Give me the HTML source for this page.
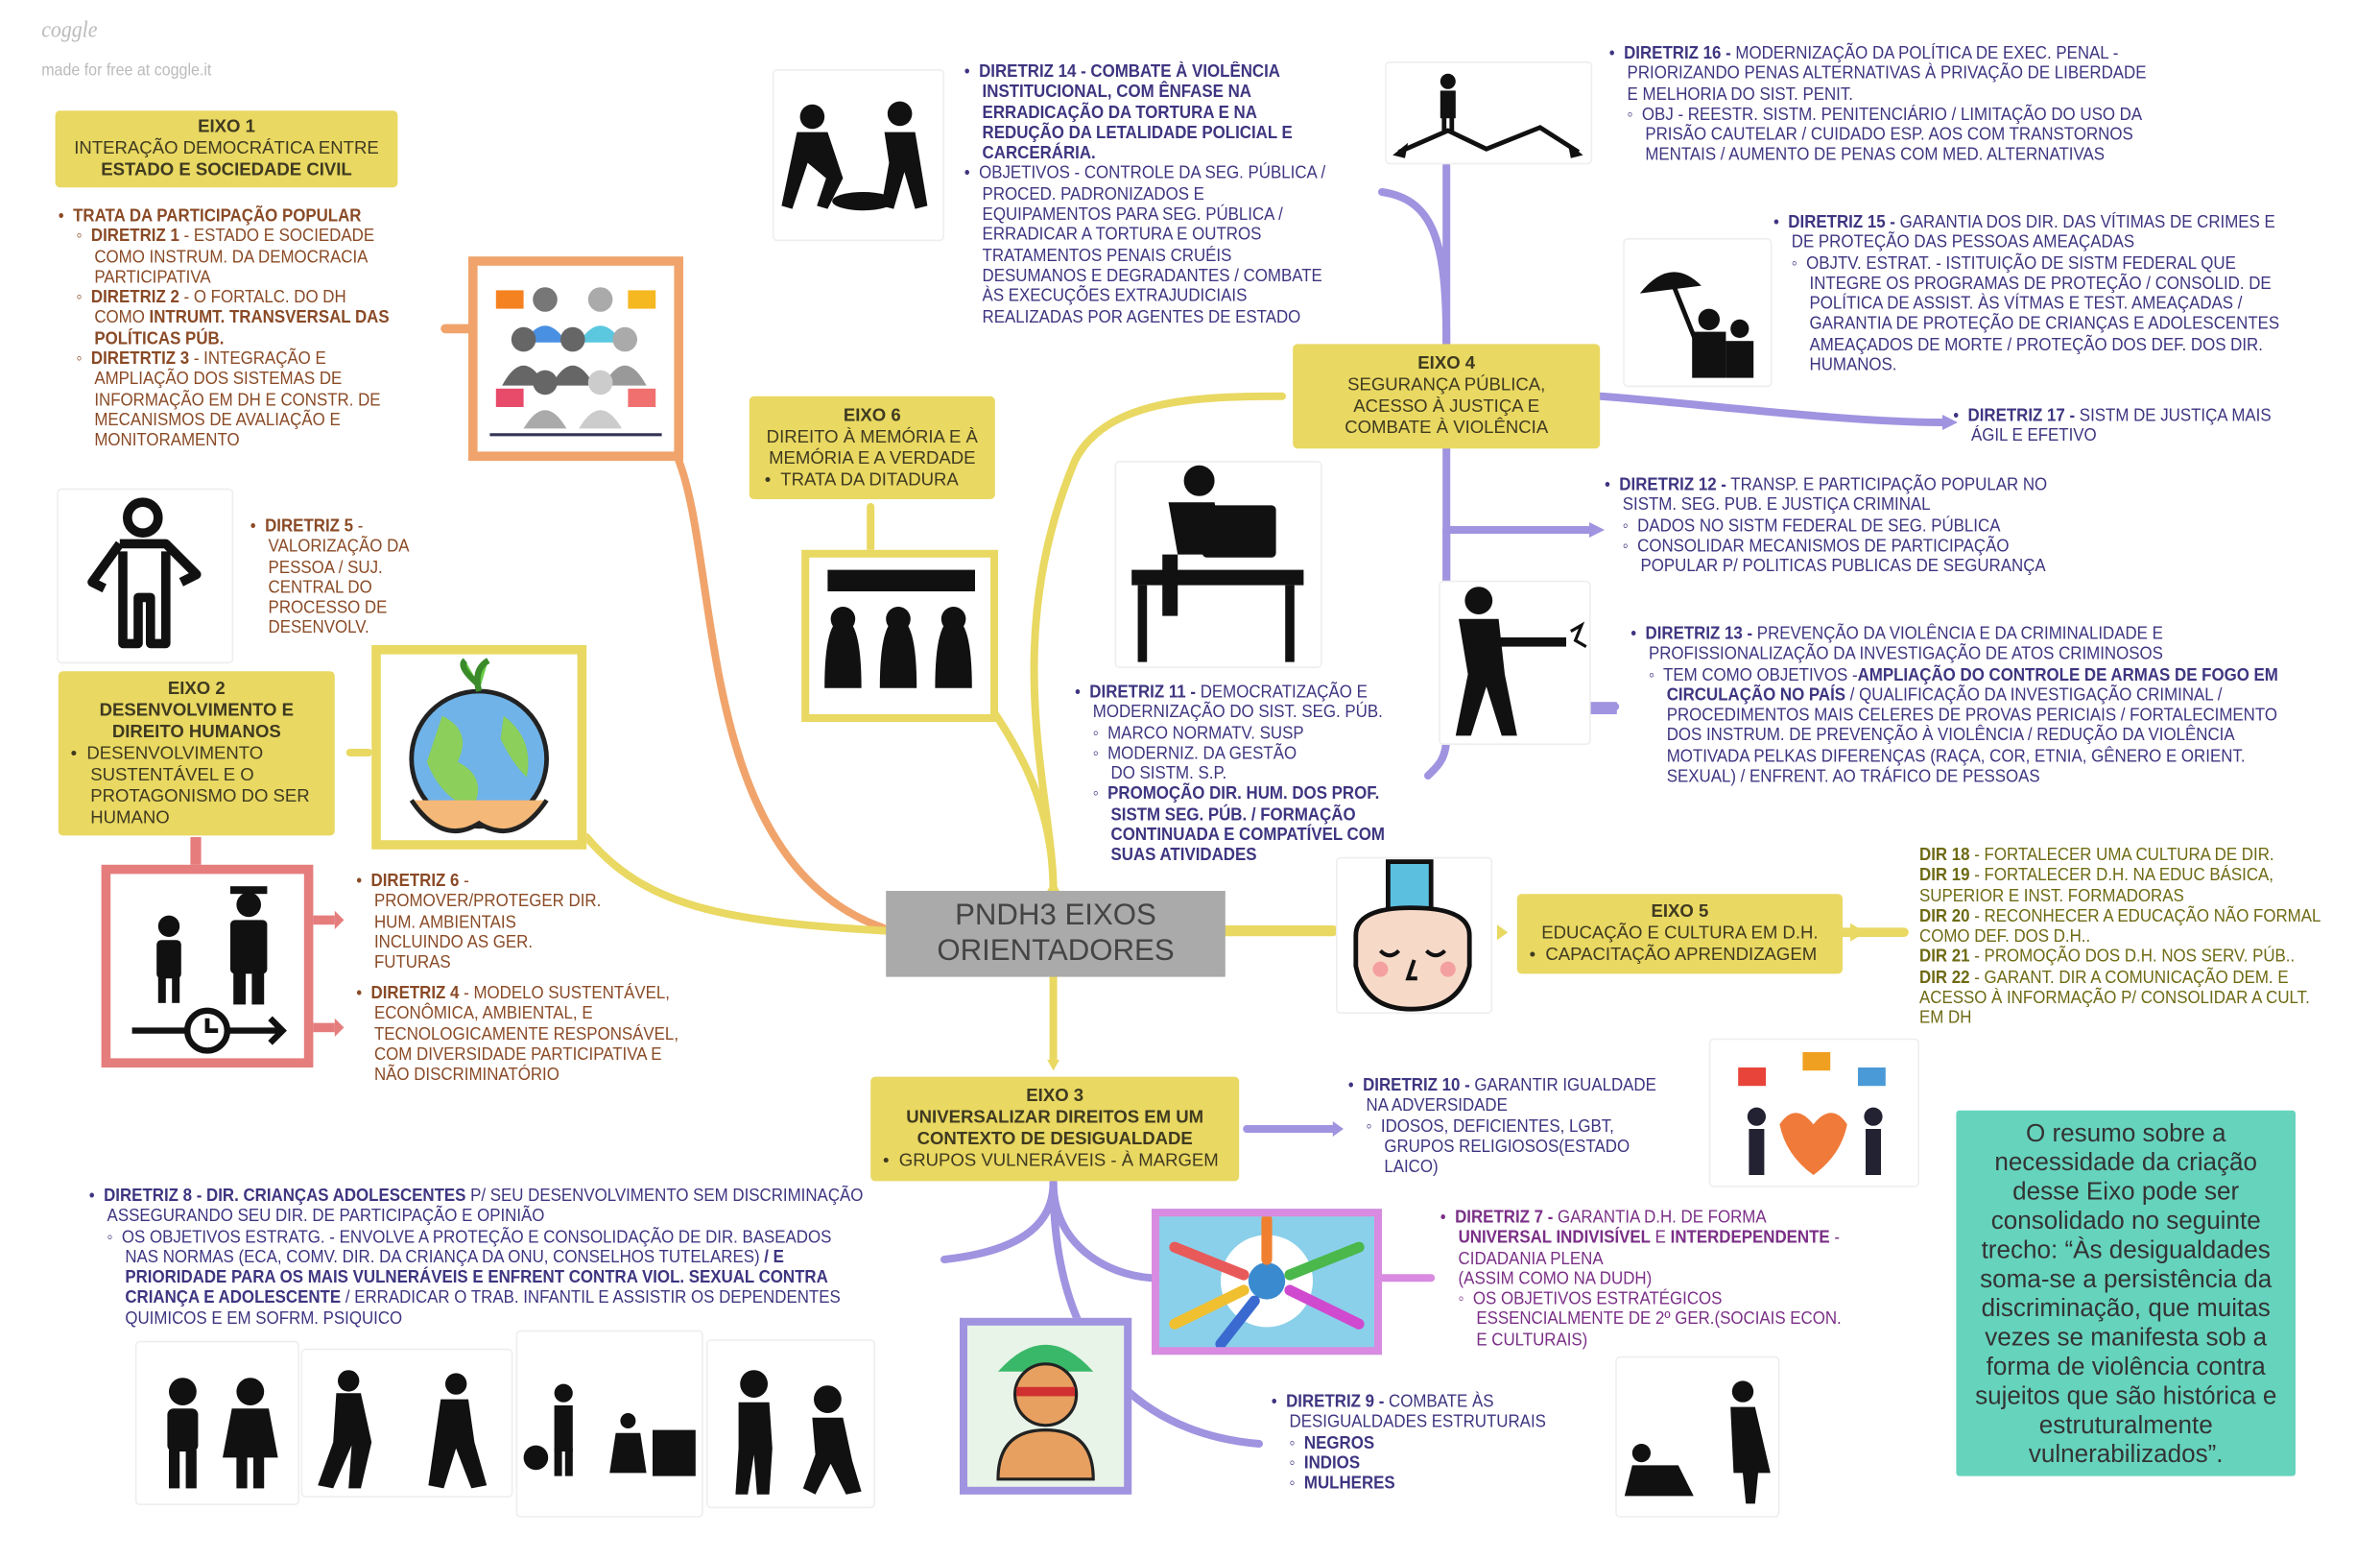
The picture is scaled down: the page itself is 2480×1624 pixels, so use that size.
<!DOCTYPE html>
<html><head><meta charset="utf-8">
<style>
html,body{margin:0;padding:0;background:#fff;width:2480px;height:1624px;overflow:hidden}
#w{position:absolute;left:0;top:0;width:1550px;height:1015px;transform:scale(1.6);transform-origin:0 0;font-family:"Liberation Sans Narrow","Liberation Sans",sans-serif}
.t{position:absolute;font-size:11.6px;line-height:13.3px;white-space:nowrap;transform:scaleX(0.91);transform-origin:0 0}
.br{color:#8a4a26}.nv{color:#3d3580}.pu{color:#7a2f86}.ol{color:#6e6a14}
.eixo{position:absolute;background:#e9d862;border-radius:3px;color:#3f3a20;font-size:11.6px;line-height:14px;text-align:center;white-space:nowrap;display:flex;flex-direction:column;justify-content:center}
.img{position:absolute;background:#fff;border:1px solid #eee;border-radius:3px}
b{font-weight:bold}
.box{position:absolute;box-sizing:border-box;background:#fff}
</style></head><body><div id="w">

<svg width="1550" height="1015" style="position:absolute;left:0;top:0" xmlns="http://www.w3.org/2000/svg">
<g fill="none" stroke-linecap="round">
<path d="M440 295 C470 360,450 560,575 604" stroke="#f0a46c" stroke-width="5"/>
<path d="M305 214 L290 214" stroke="#f0a46c" stroke-width="6"/>
<path d="M382 545 C420 590,470 600,577 606" stroke="#e9d862" stroke-width="5"/>
<path d="M686 580 C686 500,640 460,620 420 M686 580 C686 520,650 420,700 300 C720 260,780 258,835 258" stroke="#e9d862" stroke-width="5"/>
<path d="M567 358 L567 330" stroke="#e9d862" stroke-width="5"/>
<path d="M686 636 L686 690" stroke="#e9d862" stroke-width="5"/>
<path d="M798 606 L868 606" stroke="#e9d862" stroke-width="7"/>
<path d="M1200 607 L1240 607" stroke="#e9d862" stroke-width="6"/>
<path d="M228 490 L240 490" stroke="#e9d862" stroke-width="5"/>
<g stroke="#a093e0" stroke-width="5">
<path d="M942 224 C942 160,935 130,900 125"/>
<path d="M942 224 L942 108"/>
<path d="M1042 258 C1100 262,1200 275,1265 275"/>
<path d="M942 292 L942 345 L1035 345"/>
<path d="M942 345 L942 480 C942 495,935 500,930 505"/>
<path d="M942 345 L942 460 L1052 460"/>
<path d="M812 735 L868 735"/>
<path d="M686 770 C686 800,660 815,615 820"/>
<path d="M686 770 C686 810,720 830,750 832"/>
<path d="M686 770 C686 900,760 935,820 940"/>
</g>
<path d="M900 832 L932 832" stroke="#d88be0" stroke-width="5"/>
</g>
<g fill="#e9d862"><polygon points="975,602 982,607 975,612"/><polygon points="1205,601 1215,607 1205,613"/><polygon points="682,690 690,690 686,697"/><polygon points="682,580 690,580 686,573"/></g>
<g fill="#a093e0"><polygon points="1035,340 1045,345 1035,350"/><polygon points="1265,270 1275,275 1265,280"/><polygon points="868,730 875,735 868,740"/></g>
<rect x="1035" y="457" width="18" height="8" fill="#a093e0"/>
</svg>

<div class="t" style="left:27px;top:14px;font-family:'Liberation Serif',serif;font-style:italic;font-size:15px;color:#bbb">coggle</div>
<div class="t" style="left:27px;top:40px;font-family:'Liberation Sans',sans-serif;font-size:11px;color:#bbb">made for free at coggle.it</div>

<div class="eixo" style="left:36px;top:72px;width:223px;height:50px"><b>EIXO 1</b>INTERAÇÃO DEMOCRÁTICA ENTRE<b>ESTADO E SOCIEDADE CIVIL</b></div>
<div class="t br" style="left:38px;top:134px">•&nbsp; <b>TRATA DA PARTICIPAÇÃO POPULAR</b><br>&nbsp;&nbsp;&nbsp;&nbsp;◦&nbsp; <b>DIRETRIZ 1</b> - ESTADO E SOCIEDADE<br>&nbsp;&nbsp;&nbsp;&nbsp;&nbsp;&nbsp;&nbsp;&nbsp;COMO INSTRUM. DA DEMOCRACIA<br>&nbsp;&nbsp;&nbsp;&nbsp;&nbsp;&nbsp;&nbsp;&nbsp;PARTICIPATIVA<br>&nbsp;&nbsp;&nbsp;&nbsp;◦&nbsp; <b>DIRETRIZ 2</b> - O FORTALC. DO DH<br>&nbsp;&nbsp;&nbsp;&nbsp;&nbsp;&nbsp;&nbsp;&nbsp;COMO <b>INTRUMT. TRANSVERSAL DAS</b><br>&nbsp;&nbsp;&nbsp;&nbsp;&nbsp;&nbsp;&nbsp;&nbsp;<b>POLÍTICAS PÚB.</b><br>&nbsp;&nbsp;&nbsp;&nbsp;◦&nbsp; <b>DIRETRTIZ 3</b> - INTEGRAÇÃO E<br>&nbsp;&nbsp;&nbsp;&nbsp;&nbsp;&nbsp;&nbsp;&nbsp;AMPLIAÇÃO DOS SISTEMAS DE<br>&nbsp;&nbsp;&nbsp;&nbsp;&nbsp;&nbsp;&nbsp;&nbsp;INFORMAÇÃO EM DH E CONSTR. DE<br>&nbsp;&nbsp;&nbsp;&nbsp;&nbsp;&nbsp;&nbsp;&nbsp;MECANISMOS DE AVALIAÇÃO E<br>&nbsp;&nbsp;&nbsp;&nbsp;&nbsp;&nbsp;&nbsp;&nbsp;MONITORAMENTO</div>

<div class="box" style="left:305px;top:167px;width:140px;height:133px;border:6px solid #f0a46c">
<svg width="128" height="121" viewBox="0 0 128 121"><g fill="#777"><circle cx="44" cy="22" r="8"/><circle cx="80" cy="22" r="8" fill="#aaa"/></g>
<path d="M30 50 Q44 28 58 50Z" fill="#4a90e2"/><path d="M66 50 Q80 28 94 50Z" fill="#5bc8e0"/>
<g fill="#666"><circle cx="30" cy="48" r="8"/><circle cx="62" cy="48" r="8"/><circle cx="96" cy="48" r="8" fill="#aaa"/><path d="M16 78 Q30 52 44 78Z"/><path d="M48 78 Q62 52 76 78Z"/><path d="M82 78 Q96 52 110 78Z" fill="#999"/><circle cx="44" cy="76" r="8"/><circle cx="80" cy="76" r="8" fill="#ccc"/><path d="M30 106 Q44 82 58 106Z" fill="#aaa"/><path d="M66 106 Q80 82 94 106Z" fill="#ccc"/></g>
<rect x="12" y="16" width="18" height="12" fill="#f58220"/><rect x="98" y="16" width="18" height="12" fill="#f5b820"/><rect x="12" y="80" width="18" height="12" fill="#e84a6a"/><rect x="98" y="80" width="18" height="12" fill="#f07070"/>
<path d="M8 110 H120" stroke="#335" stroke-width="2"/></svg></div>

<div class="img" style="left:37px;top:318px;width:113px;height:112px"><svg width="113" height="112"><g fill="none" stroke="#111" stroke-width="6" stroke-linejoin="round"><circle cx="55" cy="18" r="10"/><path d="M40 35 L70 35 L90 55 L80 60 M40 35 L22 60 L30 64 M42 40 L42 100 L52 100 L52 70 L60 70 L60 100 L70 100 L70 40"/></g></svg></div>
<div class="t br" style="left:163px;top:336px">•&nbsp; <b>DIRETRIZ 5</b> -<br>&nbsp;&nbsp;&nbsp;&nbsp;VALORIZAÇÃO DA<br>&nbsp;&nbsp;&nbsp;&nbsp;PESSOA / SUJ.<br>&nbsp;&nbsp;&nbsp;&nbsp;CENTRAL DO<br>&nbsp;&nbsp;&nbsp;&nbsp;PROCESSO DE<br>&nbsp;&nbsp;&nbsp;&nbsp;DESENVOLV.</div>

<div class="eixo" style="left:38px;top:437px;width:180px;height:107px;align-items:flex-start"><div style="width:100%;text-align:center"><b>EIXO 2<br>DESENVOLVIMENTO E<br>DIREITO HUMANOS</b></div><div style="text-align:left;padding-left:8px">•&nbsp; DESENVOLVIMENTO<br>&nbsp;&nbsp;&nbsp;&nbsp;SUSTENTÁVEL E O<br>&nbsp;&nbsp;&nbsp;&nbsp;PROTAGONISMO DO SER<br>&nbsp;&nbsp;&nbsp;&nbsp;HUMANO</div></div>

<div class="box" style="left:242px;top:420px;width:140px;height:133px;border:6px solid #e9d862"><svg width="128" height="121"><circle cx="64" cy="68" r="44" fill="#6fb3e8" stroke="#222" stroke-width="3"/><path d="M40 40 Q60 50 50 70 Q70 80 60 100 Q40 95 30 70Z M80 40 Q100 55 95 80 Q85 70 78 55Z" fill="#8ccf5a"/><path d="M64 24 Q60 10 70 4 M64 20 Q50 8 55 4" stroke="#3a8a2a" stroke-width="4" fill="#6c4"/><path d="M20 95 Q40 125 64 110 Q88 125 108 95" stroke="#222" stroke-width="3" fill="#f4b878"/></svg></div>

<div class="box" style="left:66px;top:563px;width:138px;height:132px;border:6px solid #e57d7d"><svg width="126" height="120"><g fill="#111"><circle cx="38" cy="34" r="7"/><rect x="30" y="43" width="16" height="25" rx="3"/><rect x="31" y="66" width="5" height="18"/><rect x="40" y="66" width="5" height="18"/><circle cx="90" cy="20" r="8"/><rect x="78" y="8" width="24" height="5"/><rect x="78" y="30" width="24" height="35" rx="3"/><rect x="80" y="63" width="8" height="22"/><rect x="92" y="63" width="8" height="22"/></g><path d="M14 102 H112 M104 94 L112 102 L104 110" stroke="#111" stroke-width="4" fill="none"/><circle cx="63" cy="102" r="13" fill="#fff" stroke="#111" stroke-width="4"/><path d="M63 94 V102 H70" stroke="#111" stroke-width="3" fill="none"/></svg></div>
<svg style="position:absolute;left:204px;top:590px" width="20" height="90"><rect x="0" y="6" width="14" height="6" fill="#e57d7d"/><polygon points="14,3 20,9 14,15" fill="#e57d7d"/><rect x="0" y="76" width="14" height="6" fill="#e57d7d"/><polygon points="14,73 20,79 14,85" fill="#e57d7d"/></svg>
<div style="position:absolute;left:124px;top:545px;width:7px;height:18px;background:#e57d7d"></div>
<div class="t br" style="left:232px;top:567px">•&nbsp; <b>DIRETRIZ 6</b> -<br>&nbsp;&nbsp;&nbsp;&nbsp;PROMOVER/PROTEGER DIR.<br>&nbsp;&nbsp;&nbsp;&nbsp;HUM. AMBIENTAIS<br>&nbsp;&nbsp;&nbsp;&nbsp;INCLUINDO AS GER.<br>&nbsp;&nbsp;&nbsp;&nbsp;FUTURAS</div>
<div class="t br" style="left:232px;top:640px">•&nbsp; <b>DIRETRIZ 4</b> - MODELO SUSTENTÁVEL,<br>&nbsp;&nbsp;&nbsp;&nbsp;ECONÔMICA, AMBIENTAL, E<br>&nbsp;&nbsp;&nbsp;&nbsp;TECNOLOGICAMENTE RESPONSÁVEL,<br>&nbsp;&nbsp;&nbsp;&nbsp;COM DIVERSIDADE PARTICIPATIVA E<br>&nbsp;&nbsp;&nbsp;&nbsp;NÃO DISCRIMINATÓRIO</div>

<div class="eixo" style="left:488px;top:258px;width:160px;height:67px"><b>EIXO 6</b>DIREITO À MEMÓRIA E À<br>MEMÓRIA E A VERDADE<div style="text-align:left;padding-left:10px">•&nbsp; TRATA DA DITADURA</div></div>
<div class="box" style="left:522px;top:358px;width:128px;height:112px;border:5px solid #e9d862"><svg width="118" height="102"><g fill="#111"><rect x="12" y="8" width="96" height="14"/><path d="M10 85 Q10 40 22 40 Q34 40 34 85Z M46 85 Q46 40 58 40 Q70 40 70 85Z M82 85 Q82 40 94 40 Q106 40 106 85Z"/><circle cx="22" cy="40" r="8"/><circle cx="58" cy="40" r="8"/><circle cx="94" cy="40" r="8"/></g></svg></div>

<div class="img" style="left:503px;top:45px;width:110px;height:110px"><svg width="110" height="110"><g fill="#111"><circle cx="25" cy="30" r="8"/><path d="M15 40 L35 40 L45 70 L35 90 L28 88 L34 70 L22 60 L12 90 L5 88Z"/><circle cx="82" cy="28" r="8"/><path d="M72 40 L92 40 L100 88 L92 90 L85 66 L78 90 L70 88 L75 60Z"/><ellipse cx="58" cy="85" rx="20" ry="6"/></g></svg></div>
<div class="t nv" style="left:628px;top:40px">•&nbsp; <b>DIRETRIZ 14 - COMBATE À VIOLÊNCIA<br>&nbsp;&nbsp;&nbsp;&nbsp;INSTITUCIONAL, COM ÊNFASE NA<br>&nbsp;&nbsp;&nbsp;&nbsp;ERRADICAÇÃO DA TORTURA E NA<br>&nbsp;&nbsp;&nbsp;&nbsp;REDUÇÃO DA LETALIDADE POLICIAL E<br>&nbsp;&nbsp;&nbsp;&nbsp;CARCERÁRIA.</b><br>•&nbsp; OBJETIVOS - CONTROLE DA SEG. PÚBLICA /<br>&nbsp;&nbsp;&nbsp;&nbsp;PROCED. PADRONIZADOS E<br>&nbsp;&nbsp;&nbsp;&nbsp;EQUIPAMENTOS PARA SEG. PÚBLICA /<br>&nbsp;&nbsp;&nbsp;&nbsp;ERRADICAR A TORTURA E OUTROS<br>&nbsp;&nbsp;&nbsp;&nbsp;TRATAMENTOS PENAIS CRUÉIS<br>&nbsp;&nbsp;&nbsp;&nbsp;DESUMANOS E DEGRADANTES / COMBATE<br>&nbsp;&nbsp;&nbsp;&nbsp;ÀS EXECUÇÕES EXTRAJUDICIAIS<br>&nbsp;&nbsp;&nbsp;&nbsp;REALIZADAS POR AGENTES DE ESTADO</div>

<div style="position:absolute;left:577px;top:580px;width:221px;height:56px;background:#aaa;color:#444;font-family:'Liberation Sans Narrow','Liberation Sans',sans-serif;font-size:19.5px;line-height:23px;text-align:center;display:flex;align-items:center;justify-content:center">PNDH3 EIXOS<br>ORIENTADORES</div>

<div class="eixo" style="left:842px;top:224px;width:200px;height:68px"><b>EIXO 4</b>SEGURANÇA PÚBLICA,<br>ACESSO À JUSTIÇA E<br>COMBATE À VIOLÊNCIA</div>
<div class="img" style="left:902px;top:40px;width:133px;height:65px"><svg width="133" height="65"><g fill="#111"><circle cx="40" cy="12" r="5"/><rect x="35" y="18" width="10" height="18"/><rect x="36" y="34" width="3" height="12"/><rect x="41" y="34" width="3" height="12"/></g><path d="M8 58 L40 44 L65 56 L100 42 L125 58" stroke="#111" stroke-width="3" fill="none"/><polygon points="4,60 14,52 12,62" fill="#111"/><polygon points="128,60 118,52 120,62" fill="#111"/></svg></div>
<div class="t nv" style="left:1048px;top:28px">•&nbsp; <b>DIRETRIZ 16 -</b> MODERNIZAÇÃO DA POLÍTICA DE EXEC. PENAL -<br>&nbsp;&nbsp;&nbsp;&nbsp;PRIORIZANDO PENAS ALTERNATIVAS À PRIVAÇÃO DE LIBERDADE<br>&nbsp;&nbsp;&nbsp;&nbsp;E MELHORIA DO SIST. PENIT.<br>&nbsp;&nbsp;&nbsp;&nbsp;◦&nbsp; OBJ - REESTR. SISTM. PENITENCIÁRIO / LIMITAÇÃO DO USO DA<br>&nbsp;&nbsp;&nbsp;&nbsp;&nbsp;&nbsp;&nbsp;&nbsp;PRISÃO CAUTELAR / CUIDADO ESP. AOS COM TRANSTORNOS<br>&nbsp;&nbsp;&nbsp;&nbsp;&nbsp;&nbsp;&nbsp;&nbsp;MENTAIS / AUMENTO DE PENAS COM MED. ALTERNATIVAS</div>
<div class="img" style="left:1057px;top:155px;width:95px;height:95px"><svg width="95" height="95"><path d="M10 35 Q30 10 50 30Z" fill="#111"/><path d="M30 25 L48 70" stroke="#111" stroke-width="3"/><g fill="#111"><circle cx="55" cy="52" r="7"/><rect x="44" y="60" width="22" height="30"/><circle cx="75" cy="58" r="6"/><rect x="66" y="66" width="18" height="24"/></g></svg></div>
<div class="t nv" style="left:1155px;top:138px">•&nbsp; <b>DIRETRIZ 15 -</b> GARANTIA DOS DIR. DAS VÍTIMAS DE CRIMES E<br>&nbsp;&nbsp;&nbsp;&nbsp;DE PROTEÇÃO DAS PESSOAS AMEAÇADAS<br>&nbsp;&nbsp;&nbsp;&nbsp;◦&nbsp; OBJTV. ESTRAT. - ISTITUIÇÃO DE SISTM FEDERAL QUE<br>&nbsp;&nbsp;&nbsp;&nbsp;&nbsp;&nbsp;&nbsp;&nbsp;INTEGRE OS PROGRAMAS DE PROTEÇÃO / CONSOLID. DE<br>&nbsp;&nbsp;&nbsp;&nbsp;&nbsp;&nbsp;&nbsp;&nbsp;POLÍTICA DE ASSIST. ÀS VÍTMAS E TEST. AMEAÇADAS /<br>&nbsp;&nbsp;&nbsp;&nbsp;&nbsp;&nbsp;&nbsp;&nbsp;GARANTIA DE PROTEÇÃO DE CRIANÇAS E ADOLESCENTES<br>&nbsp;&nbsp;&nbsp;&nbsp;&nbsp;&nbsp;&nbsp;&nbsp;AMEAÇADOS DE MORTE / PROTEÇÃO DOS DEF. DOS DIR.<br>&nbsp;&nbsp;&nbsp;&nbsp;&nbsp;&nbsp;&nbsp;&nbsp;HUMANOS.</div>
<div class="t nv" style="left:1272px;top:264px">•&nbsp; <b>DIRETRIZ 17 -</b> SISTM DE JUSTIÇA MAIS<br>&nbsp;&nbsp;&nbsp;&nbsp;ÁGIL E EFETIVO</div>

<div class="img" style="left:726px;top:300px;width:133px;height:133px"><svg width="133" height="133"><g fill="#111"><circle cx="54" cy="12" r="10"/><path d="M34 26 L64 26 L70 60 L40 60Z"/><rect x="56" y="28" width="48" height="34" rx="3"/><rect x="10" y="70" width="112" height="10"/><rect x="14" y="80" width="6" height="50"/><rect x="110" y="80" width="6" height="50"/><rect x="30" y="60" width="10" height="40"/></g></svg></div>
<div class="t nv" style="left:1045px;top:309px">•&nbsp; <b>DIRETRIZ 12 -</b> TRANSP. E PARTICIPAÇÃO POPULAR NO<br>&nbsp;&nbsp;&nbsp;&nbsp;SISTM. SEG. PUB. E JUSTIÇA CRIMINAL<br>&nbsp;&nbsp;&nbsp;&nbsp;◦&nbsp; DADOS NO SISTM FEDERAL DE SEG. PÚBLICA<br>&nbsp;&nbsp;&nbsp;&nbsp;◦&nbsp; CONSOLIDAR MECANISMOS DE PARTICIPAÇÃO<br>&nbsp;&nbsp;&nbsp;&nbsp;&nbsp;&nbsp;&nbsp;&nbsp;POPULAR P/ POLITICAS PUBLICAS DE SEGURANÇA</div>
<div class="img" style="left:937px;top:378px;width:97px;height:105px"><svg width="97" height="105"><g fill="#111"><circle cx="25" cy="12" r="9"/><path d="M12 24 L38 24 L42 60 L50 100 L40 100 L30 68 L20 100 L10 100 L18 60Z"/><rect x="20" y="36" width="62" height="6"/></g><path d="M85 32 L92 28 L88 38 L95 42" stroke="#111" stroke-width="2" fill="none"/></svg></div>
<div class="t nv" style="left:1062px;top:406px">•&nbsp; <b>DIRETRIZ 13 -</b> PREVENÇÃO DA VIOLÊNCIA E DA CRIMINALIDADE E<br>&nbsp;&nbsp;&nbsp;&nbsp;PROFISSIONALIZAÇÃO DA INVESTIGAÇÃO DE ATOS CRIMINOSOS<br>&nbsp;&nbsp;&nbsp;&nbsp;◦&nbsp; TEM COMO OBJETIVOS -<b>AMPLIAÇÃO DO CONTROLE DE ARMAS DE FOGO EM</b><br>&nbsp;&nbsp;&nbsp;&nbsp;&nbsp;&nbsp;&nbsp;&nbsp;<b>CIRCULAÇÃO NO PAÍS</b> / QUALIFICAÇÃO DA INVESTIGAÇÃO CRIMINAL /<br>&nbsp;&nbsp;&nbsp;&nbsp;&nbsp;&nbsp;&nbsp;&nbsp;PROCEDIMENTOS MAIS CELERES DE PROVAS PERICIAIS / FORTALECIMENTO<br>&nbsp;&nbsp;&nbsp;&nbsp;&nbsp;&nbsp;&nbsp;&nbsp;DOS INSTRUM. DE PREVENÇÃO À VIOLÊNCIA / REDUÇÃO DA VIOLÊNCIA<br>&nbsp;&nbsp;&nbsp;&nbsp;&nbsp;&nbsp;&nbsp;&nbsp;MOTIVADA PELKAS DIFERENÇAS (RAÇA, COR, ETNIA, GÊNERO E ORIENT.<br>&nbsp;&nbsp;&nbsp;&nbsp;&nbsp;&nbsp;&nbsp;&nbsp;SEXUAL) / ENFRENT. AO TRÁFICO DE PESSOAS</div>
<div class="t nv" style="left:700px;top:444px">•&nbsp; <b>DIRETRIZ 11 -</b> DEMOCRATIZAÇÃO E<br>&nbsp;&nbsp;&nbsp;&nbsp;MODERNIZAÇÃO DO SIST. SEG. PÚB.<br>&nbsp;&nbsp;&nbsp;&nbsp;◦&nbsp; MARCO NORMATV. SUSP<br>&nbsp;&nbsp;&nbsp;&nbsp;◦&nbsp; MODERNIZ. DA GESTÃO<br>&nbsp;&nbsp;&nbsp;&nbsp;&nbsp;&nbsp;&nbsp;&nbsp;DO SISTM. S.P.<br>&nbsp;&nbsp;&nbsp;&nbsp;◦&nbsp; <b>PROMOÇÃO DIR. HUM. DOS PROF.</b><br>&nbsp;&nbsp;&nbsp;&nbsp;&nbsp;&nbsp;&nbsp;&nbsp;<b>SISTM SEG. PÚB. / FORMAÇÃO</b><br>&nbsp;&nbsp;&nbsp;&nbsp;&nbsp;&nbsp;&nbsp;&nbsp;<b>CONTINUADA E COMPATÍVEL COM</b><br>&nbsp;&nbsp;&nbsp;&nbsp;&nbsp;&nbsp;&nbsp;&nbsp;<b>SUAS ATIVIDADES</b></div>

<div class="img" style="left:870px;top:558px;width:100px;height:100px"><svg width="100" height="100"><rect x="33" y="2" width="28" height="38" fill="#5bbfe0" stroke="#111" stroke-width="3"/><path d="M12 50 Q12 32 48 32 Q86 32 86 50 L86 70 Q80 98 48 98 Q18 98 12 70Z" fill="#f7d9c8" stroke="#111" stroke-width="3"/><path d="M28 60 Q34 66 40 60 M58 60 Q64 66 70 60 M50 66 L46 78 L52 78" stroke="#111" stroke-width="2.5" fill="none"/><circle cx="28" cy="72" r="5" fill="#f4a0a0"/><circle cx="72" cy="72" r="5" fill="#f4a0a0"/></svg></div>
<div class="eixo" style="left:988px;top:582px;width:212px;height:52px"><b>EIXO 5</b>EDUCAÇÃO E CULTURA EM D.H.<div style="text-align:left;padding-left:8px">•&nbsp; CAPACITAÇÃO APRENDIZAGEM</div></div>
<div class="t ol" style="left:1250px;top:550px"><b>DIR 18</b> - FORTALECER UMA CULTURA DE DIR.<br><b>DIR 19</b> - FORTALECER D.H. NA EDUC BÁSICA,<br>SUPERIOR E INST. FORMADORAS<br><b>DIR 20</b> - RECONHECER A EDUCAÇÃO NÃO FORMAL<br>COMO DEF. DOS D.H..<br><b>DIR 21</b> - PROMOÇÃO DOS D.H. NOS SERV. PÚB..<br><b>DIR 22</b> - GARANT. DIR A COMUNICAÇÃO DEM. E<br>ACESSO À INFORMAÇÃO P/ CONSOLIDAR A CULT.<br>EM DH</div>

<div class="eixo" style="left:567px;top:701px;width:240px;height:68px"><b>EIXO 3<br>UNIVERSALIZAR DIREITOS EM UM<br>CONTEXTO DE DESIGUALDADE</b><div style="text-align:left;padding-left:8px">•&nbsp; GRUPOS VULNERÁVEIS - À MARGEM</div></div>
<div class="t nv" style="left:878px;top:700px">•&nbsp; <b>DIRETRIZ 10 -</b> GARANTIR IGUALDADE<br>&nbsp;&nbsp;&nbsp;&nbsp;NA ADVERSIDADE<br>&nbsp;&nbsp;&nbsp;&nbsp;◦&nbsp; IDOSOS, DEFICIENTES, LGBT,<br>&nbsp;&nbsp;&nbsp;&nbsp;&nbsp;&nbsp;&nbsp;&nbsp;GRUPOS RELIGIOSOS(ESTADO<br>&nbsp;&nbsp;&nbsp;&nbsp;&nbsp;&nbsp;&nbsp;&nbsp;LAICO)</div>
<div class="img" style="left:1113px;top:676px;width:135px;height:95px"><svg width="135" height="95"><rect x="18" y="18" width="18" height="12" fill="#e8443a"/><rect x="60" y="8" width="18" height="12" fill="#f0a020"/><rect x="96" y="18" width="18" height="12" fill="#4a9ad8"/><path d="M45 55 Q55 40 67 55 Q79 40 89 55 Q85 75 67 88 Q49 75 45 55Z" fill="#f07a3a"/><g fill="#223"><circle cx="30" cy="50" r="6"/><rect x="25" y="58" width="10" height="30"/><circle cx="106" cy="50" r="6"/><rect x="101" y="58" width="10" height="30"/></g></svg></div>

<div class="box" style="left:750px;top:787px;width:150px;height:95px;border:5px solid #d88be0;background:#8ad0ea"><svg width="140" height="85"><circle cx="70" cy="42" r="30" fill="#fff"/><circle cx="70" cy="42" r="12" fill="#3a8ad0"/><g stroke-width="7" stroke-linecap="round"><path d="M10 20 L55 38" stroke="#e85a5a"/><path d="M130 20 L85 38" stroke="#4ab84a"/><path d="M10 70 L55 48" stroke="#f0c030"/><path d="M130 70 L85 48" stroke="#d04ad0"/><path d="M70 2 L70 28" stroke="#f08030"/><path d="M40 83 L62 55" stroke="#3a6ad0"/></g></svg></div>
<div class="t pu" style="left:938px;top:786px">•&nbsp; <b>DIRETRIZ 7 -</b> GARANTIA D.H. DE FORMA<br>&nbsp;&nbsp;&nbsp;&nbsp;<b>UNIVERSAL INDIVISÍVEL</b> E <b>INTERDEPENDENTE</b> -<br>&nbsp;&nbsp;&nbsp;&nbsp;CIDADANIA PLENA<br>&nbsp;&nbsp;&nbsp;&nbsp;(ASSIM COMO NA DUDH)<br>&nbsp;&nbsp;&nbsp;&nbsp;◦&nbsp; OS OBJETIVOS ESTRATÉGICOS<br>&nbsp;&nbsp;&nbsp;&nbsp;&nbsp;&nbsp;&nbsp;&nbsp;ESSENCIALMENTE DE 2º GER.(SOCIAIS ECON.<br>&nbsp;&nbsp;&nbsp;&nbsp;&nbsp;&nbsp;&nbsp;&nbsp;E CULTURAIS)</div>

<div class="box" style="left:625px;top:858px;width:112px;height:115px;border:5px solid #a093e0;background:#e8f4e8"><svg width="102" height="105"><path d="M20 30 Q51 -5 82 30Z" fill="#3ab86a"/><circle cx="51" cy="45" r="20" fill="#e8a060" stroke="#222" stroke-width="2"/><rect x="32" y="40" width="38" height="6" fill="#d03030"/><path d="M20 100 Q20 68 51 68 Q82 68 82 100Z" fill="#e8a060" stroke="#222" stroke-width="2"/></svg></div>
<div class="t nv" style="left:828px;top:906px">•&nbsp; <b>DIRETRIZ 9 -</b> COMBATE ÀS<br>&nbsp;&nbsp;&nbsp;&nbsp;DESIGUALDADES ESTRUTURAIS<br>&nbsp;&nbsp;&nbsp;&nbsp;◦&nbsp; <b>NEGROS</b><br>&nbsp;&nbsp;&nbsp;&nbsp;◦&nbsp; <b>INDIOS</b><br>&nbsp;&nbsp;&nbsp;&nbsp;◦&nbsp; <b>MULHERES</b></div>
<div class="img" style="left:1052px;top:883px;width:105px;height:103px"><svg width="105" height="103"><g fill="#111"><circle cx="82" cy="22" r="7"/><path d="M74 32 L90 32 L100 75 L92 75 L90 95 L84 95 L82 75 L76 75Z"/><circle cx="16" cy="62" r="6"/><path d="M10 70 L40 70 L50 90 L5 90Z"/></g></svg></div>

<div style="position:absolute;left:1274px;top:723px;width:221px;height:238px;background:#66d3bd;border-radius:2px;color:#333;font-family:'Liberation Sans',sans-serif;font-size:16.3px;line-height:19px;text-align:center;box-sizing:border-box;padding-top:6px">O resumo sobre a<br>necessidade da criação<br>desse Eixo pode ser<br>consolidado no seguinte<br>trecho: “Às desigualdades<br>soma-se a persistência da<br>discriminação, que muitas<br>vezes se manifesta sob a<br>forma de violência contra<br>sujeitos que são histórica e<br>estruturalmente<br>vulnerabilizados”.</div>

<div class="t nv" style="left:58px;top:772px">•&nbsp; <b>DIRETRIZ 8 - DIR. CRIANÇAS ADOLESCENTES</b> P/ SEU DESENVOLVIMENTO SEM DISCRIMINAÇÃO<br>&nbsp;&nbsp;&nbsp;&nbsp;ASSEGURANDO SEU DIR. DE PARTICIPAÇÃO E OPINIÃO<br>&nbsp;&nbsp;&nbsp;&nbsp;◦&nbsp; OS OBJETIVOS ESTRATG. - ENVOLVE A PROTEÇÃO E CONSOLIDAÇÃO DE DIR. BASEADOS<br>&nbsp;&nbsp;&nbsp;&nbsp;&nbsp;&nbsp;&nbsp;&nbsp;NAS NORMAS (ECA, COMV. DIR. DA CRIANÇA DA ONU, CONSELHOS TUTELARES) <b>/ E</b><br>&nbsp;&nbsp;&nbsp;&nbsp;&nbsp;&nbsp;&nbsp;&nbsp;<b>PRIORIDADE PARA OS MAIS VULNERÁVEIS E ENFRENT CONTRA VIOL. SEXUAL CONTRA</b><br>&nbsp;&nbsp;&nbsp;&nbsp;&nbsp;&nbsp;&nbsp;&nbsp;<b>CRIANÇA E ADOLESCENTE</b> / ERRADICAR O TRAB. INFANTIL E ASSISTIR OS DEPENDENTES<br>&nbsp;&nbsp;&nbsp;&nbsp;&nbsp;&nbsp;&nbsp;&nbsp;QUIMICOS E EM SOFRM. PSIQUICO</div>

<div class="img" style="left:88px;top:873px;width:105px;height:105px"><svg width="105" height="105"><g fill="#111"><circle cx="30" cy="32" r="9"/><rect x="20" y="43" width="20" height="28" rx="4"/><rect x="21" y="70" width="7" height="25"/><rect x="32" y="70" width="7" height="25"/><circle cx="74" cy="32" r="9"/><path d="M62 43 L86 43 L92 75 L56 75Z"/><rect x="65" y="74" width="7" height="21"/><rect x="76" y="74" width="7" height="21"/></g></svg></div>
<div class="img" style="left:196px;top:878px;width:136px;height:95px"><svg width="136" height="95"><g fill="#111"><circle cx="30" cy="20" r="7"/><path d="M22 28 L38 28 L45 60 L38 90 L30 90 L32 62 L20 90 L10 88 L20 60Z"/><circle cx="100" cy="22" r="7"/><path d="M90 32 L108 32 L112 60 L120 88 L110 90 L100 64 L92 90 L82 88Z"/></g></svg></div>
<div class="img" style="left:336px;top:866px;width:120px;height:120px"><svg width="120" height="120"><g fill="#111"><circle cx="30" cy="40" r="6"/><rect x="24" y="48" width="12" height="30"/><rect x="24" y="76" width="5" height="18"/><rect x="31" y="76" width="5" height="18"/><circle cx="12" cy="82" r="8"/><circle cx="72" cy="58" r="5"/><path d="M64 66 L80 66 L84 92 L60 92Z"/><rect x="88" y="64" width="28" height="30"/></g></svg></div>
<div class="img" style="left:460px;top:872px;width:108px;height:108px"><svg width="108" height="108"><g fill="#111"><circle cx="30" cy="28" r="9"/><path d="M20 40 L40 40 L42 70 L40 100 L32 100 L30 74 L26 100 L18 100 L20 70Z"/><circle cx="78" cy="38" r="9"/><path d="M68 50 L88 50 L94 78 L100 98 L90 100 L80 80 L70 100 L62 96 L70 74Z"/></g></svg></div>

</div></body></html>
